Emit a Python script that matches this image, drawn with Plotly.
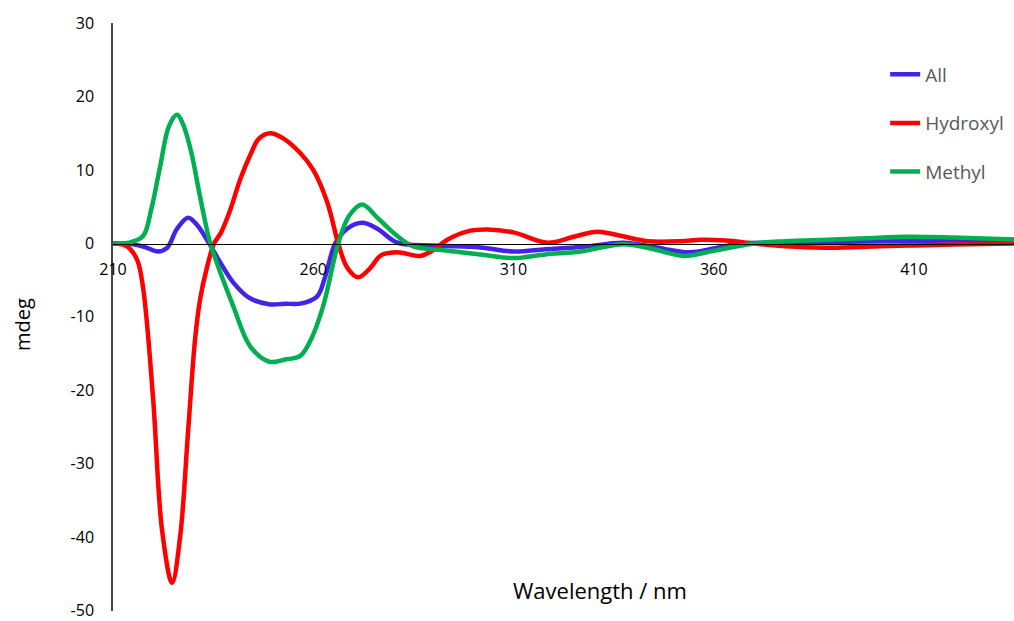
import plotly.graph_objects as go

# ---- data ----
all_wl = [210, 215, 218, 221.25, 223.5, 226, 228.75, 231, 234, 237, 240, 244, 249.25, 253,
          256.75, 261, 263, 265.5, 268.5, 272.25, 276, 281, 290, 301.75, 310, 318, 326.75,
          337.5, 345, 354, 360, 366.75, 378, 388.5, 408.5, 420, 435]
all_val = [0, -0.1, -0.5, -1.1, -0.6, 2.0, 3.5, 2.5, 0, -2.8, -5.3, -7.4, -8.3, -8.2,
           -8.2, -7.2, -4.5, 0, 2.0, 2.8, 2.0, 0.1, -0.3, -0.55, -1.1, -0.8, -0.5,
           0.1, -0.5, -1.2, -0.7, 0, 0.1, 0.2, 0.3, 0.4, 0.45]

hyd_wl = [210, 213.5, 216, 217.5, 220, 222.25, 224.75, 226.75, 228.75, 230.5, 231.75, 233.5,
          235.25, 237, 239.25, 241.75, 244.25, 246.5, 249.25, 252.5, 256.75, 260, 263.5,
          266.25, 268.5, 271.25, 274, 277, 281, 286.75, 290, 293.5, 299, 303.5, 310, 318.5,
          325, 331, 337, 343.5, 351.75, 356.75, 363, 370, 378, 387.5, 398, 408.5, 420, 435]
hyd_val = [0, -0.4, -2.2, -6.0, -21, -39, -46.2, -40, -25.6, -13, -7.6, -3.2,
           0, 1.5, 4.5, 8.7, 12.0, 14.3, 15.0, 14.3, 12.3, 10, 5.6,
           0, -3.3, -4.6, -3.5, -1.6, -1.2, -1.7, -0.9, 0.5, 1.7, 1.9, 1.5, 0.1,
           0.9, 1.6, 1.0, 0.3, 0.3, 0.5, 0.4, 0, -0.4, -0.6, -0.45, -0.3, -0.15, 0]

met_wl = [210, 214, 217.5, 219.5, 221.75, 224, 226, 227.5, 229.5, 231.5, 233, 234.3, 240,
          244.25, 249, 253, 256.75, 259.5, 262.5, 266.25, 269, 272.25, 276, 281, 285, 292,
          301.75, 310, 318, 326.75, 337.5, 345, 352.5, 360, 370, 378, 388.5, 398, 408.5,
          420, 435]
met_val = [0, 0.1, 1.0, 4.5, 10.4, 16, 17.5, 16.2, 12.5, 7, 3, 0, -8.5,
           -14, -16.1, -15.8, -15.3, -13, -8.5, 0, 3.8, 5.3, 3.5, 1.0, -0.4, -0.9,
           -1.5, -2.0, -1.5, -1.1, -0.1, -0.8, -1.7, -1.0, 0, 0.3, 0.5, 0.7, 0.9,
           0.8, 0.55]

series = [
    ("All", all_wl, all_val, "#4124E8"),
    ("Hydroxyl", hyd_wl, hyd_val, "#FF0000"),
    ("Methyl", met_wl, met_val, "#00B050"),
]

x_ticks = [210, 260, 310, 360, 410]
y_ticks = [30, 20, 10, 0, -10, -20, -30, -40, -50]

W, H = 1014, 621
L, R, T, B = 113, 0, 23, 10

fig = go.Figure()
for i, (name, wl, val, col) in enumerate(series):
    fig.add_trace(go.Scatter(
        x=wl, y=val, name=name, mode="lines",
        line=dict(color=col, width=4.5, shape="spline", smoothing=1.0),
        legendgroup=f"g{i}",
    ))

pw, ph = W - L - R, H - T - B


def px(x, y):
    return (x - L) / pw, (H - B - y) / ph


mx, my = px(22, 325)
wx, wy = px(600, 590)

fig.update_layout(
    width=W, height=H,
    margin=dict(l=L, r=R, t=T, b=B, autoexpand=False),
    plot_bgcolor="white", paper_bgcolor="white",
    font=dict(family="Open Sans, Liberation Sans, sans-serif", size=16, color="black"),
    showlegend=True,
    legend=dict(
        x=0.857, y=0.945, xanchor="left", yanchor="top",
        font=dict(size=19, color="#595959"),
        tracegroupgap=21, bgcolor="rgba(0,0,0,0)",
        itemwidth=30,
    ),
    xaxis=dict(
        range=[210, 435], tickvals=x_ticks, ticktext=[str(t) for t in x_ticks],
        showgrid=False, zeroline=False, showline=True, linecolor="black", linewidth=1,
        anchor="free", position=50 / 80, ticks="", ticklabelstandoff=11, automargin=False,
    ),
    yaxis=dict(
        range=[-50.03, 30.0], tickvals=y_ticks, ticktext=[str(t) for t in y_ticks],
        showgrid=False, zeroline=False, showline=True, linecolor="#444444", linewidth=1.5,
        ticks="", ticklabelstandoff=14, ticklabeloverflow="allow", automargin=False,
    ),
    annotations=[
        dict(text="mdeg", x=mx, y=my, xref="paper", yref="paper", showarrow=False,
             textangle=-90, xanchor="center", yanchor="middle", font=dict(size=20)),
        dict(text="Wavelength / nm", x=wx, y=wy, xref="paper", yref="paper",
             showarrow=False, xanchor="center", yanchor="middle", font=dict(size=22)),
    ],
)
fig.write_html("out.html", config={"displayModeBar": False},
               post_script="document.body.style.margin='0';document.body.style.overflow='hidden';")
